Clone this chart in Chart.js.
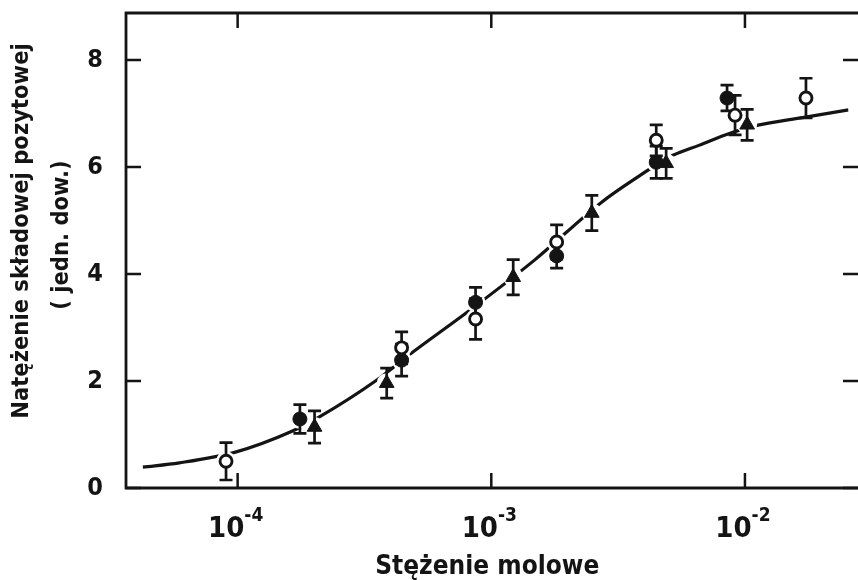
<!DOCTYPE html>
<html>
<head>
<meta charset="utf-8">
<script src="https://cdn.jsdelivr.net/npm/chart.js@4.4.1/dist/chart.umd.min.js"></script>
<style>
  html, body { margin: 0; padding: 0; background: #fff; }
  #chart { display: block; }
</style>
</head>
<body>
<canvas id="chart" width="858" height="580"></canvas>
<script>
// values
const openX = [9.0e-5, 4.43e-4, 8.67e-4, 1.81e-3, 4.47e-3, 9.14e-3, 1.74e-2];
const openY = [0.50, 2.62, 3.16, 4.60, 6.50, 6.97, 7.29];
const openErr = [0.35, 0.30, 0.38, 0.32, 0.29, 0.37, 0.37];

const filledX = [1.76e-4, 4.43e-4, 8.67e-4, 1.81e-3, 4.47e-3, 8.5e-3];
const filledY = [1.29, 2.39, 3.47, 4.34, 6.09, 7.29];
const filledErr = [0.27, 0.30, 0.28, 0.23, 0.30, 0.24];

const triX = [2.01e-4, 3.87e-4, 1.22e-3, 2.49e-3, 4.89e-3, 1.02e-2];
const triY = [1.14, 1.96, 3.94, 5.14, 6.07, 6.79];
const triErr = [0.30, 0.28, 0.33, 0.33, 0.28, 0.29];

const curveX = [4.23e-5, 5.89e-5, 9.8e-5, 1.62e-4, 2.1e-4, 3.54e-4, 4.75e-4, 8.43e-4,
  1.48e-3, 2.7e-3, 3.63e-3, 5.2e-3, 6.62e-3, 8.36e-3, 1.09e-2, 1.71e-2, 2.56e-2];
const curveY = [0.39, 0.47, 0.67, 1.05, 1.33, 2.02, 2.49, 3.36,
  4.26, 5.33, 5.76, 6.22, 6.41, 6.60, 6.77, 6.93, 7.07];

const xTicks = [1e-4, 1e-3, 1e-2];
const xTickBase = "10";
const xTickExp = ["-4", "-3", "-2"];
const yTicks = [0, 2, 4, 6, 8];
const yTitle = ["Natężenie składowej pozytowej", "( jedn. dow.)"];

const INK = "#141414";
const FONT = "'DejaVu Sans Condensed', 'DejaVu Sans', sans-serif";

const pts = (xs, ys) => xs.map((x, i) => ({ x: x, y: ys[i] }));

// after the curve is drawn: white gaps round the symbols, then the error bars,
// so the symbols themselves land on top
const errorBars = {
  id: "errorBars",
  afterDatasetDraw(chart, args) {
    if (args.index !== 0) return;
    const { ctx, scales } = chart;
    const sets = [[openX, openY, openErr], [filledX, filledY, filledErr], [triX, triY, triErr]];
    ctx.save();
    ctx.fillStyle = "#fff";
    sets.forEach(([xs, ys]) => {
      xs.forEach((x, i) => {
        ctx.beginPath();
        ctx.arc(scales.x.getPixelForValue(x), scales.y.getPixelForValue(ys[i]), 10, 0, Math.PI * 2);
        ctx.fill();
      });
    });
    ctx.strokeStyle = INK;
    ctx.lineWidth = 2.7;
    sets.forEach(([xs, ys, es]) => {
      xs.forEach((x, i) => {
        const px = scales.x.getPixelForValue(x);
        const top = scales.y.getPixelForValue(ys[i] + es[i]);
        const bot = scales.y.getPixelForValue(ys[i] - es[i]);
        ctx.beginPath();
        ctx.moveTo(px, top); ctx.lineTo(px, bot);
        ctx.moveTo(px - 6.5, top); ctx.lineTo(px + 6.5, top);
        ctx.moveTo(px - 6.5, bot); ctx.lineTo(px + 6.5, bot);
        ctx.stroke();
      });
    });
    ctx.restore();
  },
};

// box with inward ticks on all sides (right border falls off the page),
// plus the power-of-ten labels and the two-line y title
const frame = {
  id: "frame",
  beforeDraw(chart) {
    const ctx = chart.ctx;
    ctx.save();
    ctx.fillStyle = "#fff";
    ctx.fillRect(0, 0, chart.width, chart.height);
    ctx.restore();
  },
  afterDraw(chart) {
    const { ctx, chartArea: a, scales } = chart;
    const len = 15;
    ctx.save();
    ctx.strokeStyle = INK;
    ctx.lineWidth = 2.8;
    ctx.beginPath();
    ctx.moveTo(chart.width, a.top); ctx.lineTo(a.left, a.top);
    ctx.lineTo(a.left, a.bottom); ctx.lineTo(chart.width, a.bottom);
    ctx.stroke();
    ctx.lineWidth = 2.5;
    ctx.beginPath();
    xTicks.forEach((v) => {
      const px = scales.x.getPixelForValue(v);
      ctx.moveTo(px, a.top); ctx.lineTo(px, a.top + len);
      ctx.moveTo(px, a.bottom); ctx.lineTo(px, a.bottom - len);
    });
    yTicks.forEach((v) => {
      const py = scales.y.getPixelForValue(v);
      ctx.moveTo(a.left, py); ctx.lineTo(a.left + len, py);
      ctx.moveTo(chart.width, py); ctx.lineTo(chart.width - len, py);
    });
    ctx.stroke();

    ctx.fillStyle = INK;
    ctx.textBaseline = "alphabetic";
    ctx.textAlign = "left";
    const baseFont = "bold 29px " + FONT;
    const expFont = "bold 19px " + FONT;
    xTicks.forEach((v, i) => {
      const px = scales.x.getPixelForValue(v);
      ctx.font = baseFont;
      const wb = ctx.measureText(xTickBase).width;
      ctx.font = expFont;
      const we = ctx.measureText(xTickExp[i]).width;
      const x0 = px - (wb + we) / 2 - 2;
      ctx.font = baseFont;
      ctx.fillText(xTickBase, x0, a.bottom + 49);
      ctx.font = expFont;
      ctx.fillText(xTickExp[i], x0 + wb, a.bottom + 33);
    });

    ctx.font = "bold 23.5px " + FONT;
    ctx.textAlign = "center";
    ctx.textBaseline = "middle";
    [[22, 231], [62, 235]].forEach(([cx, cy], i) => {
      ctx.save();
      ctx.translate(cx, cy);
      ctx.rotate(-Math.PI / 2);
      ctx.fillText(yTitle[i], 0, 0);
      ctx.restore();
    });
    ctx.restore();
  },
};

new Chart(document.getElementById("chart"), {
  type: "scatter",
  data: {
    datasets: [
      {
        type: "line",
        order: 10,
        data: pts(curveX, curveY),
        borderColor: INK,
        borderWidth: 3.2,
        pointRadius: 0,
        cubicInterpolationMode: "monotone",
        fill: false,
      },
      {
        order: 2,
        data: pts(filledX, filledY),
        pointStyle: "circle",
        pointRadius: 7,
        backgroundColor: INK,
        borderColor: INK,
        borderWidth: 1,
      },
      {
        order: 2,
        data: pts(triX, triY),
        pointStyle: "triangle",
        pointRadius: 8.5,
        backgroundColor: INK,
        borderColor: INK,
        borderWidth: 1,
      },
      {
        order: 0,
        data: pts(openX, openY),
        pointStyle: "circle",
        pointRadius: 6,
        backgroundColor: "#fff",
        borderColor: INK,
        borderWidth: 2.9,
      },
    ],
  },
  options: {
    responsive: false,
    animation: false,
    events: [],
    layout: { padding: { top: 13, right: 0, left: 0, bottom: 0 } },
    plugins: { legend: { display: false }, tooltip: { enabled: false } },
    scales: {
      x: {
        type: "logarithmic",
        min: 3.63e-5,
        max: 2.56e-2,
        grid: { display: false },
        border: { display: false },
        afterBuildTicks: (s) => { s.ticks = xTicks.map((v) => ({ value: v })); },
        afterFit: (s) => { s.height = 92; s.paddingLeft = 0; s.paddingRight = 0; },
        ticks: { display: false },
        title: {
          display: true,
          text: "Stężenie molowe",
          color: INK,
          padding: 0,
          font: { family: FONT, size: 26, weight: "bold", lineHeight: 1.0 },
        },
      },
      y: {
        min: 0,
        max: 8.88,
        grid: { display: false },
        border: { display: false },
        afterBuildTicks: (s) => { s.ticks = yTicks.map((v) => ({ value: v })); },
        afterFit: (s) => { s.width = 126; s.paddingTop = 0; s.paddingBottom = 0; },
        ticks: {
          color: INK,
          padding: 15,
          font: { family: FONT, size: 25, weight: "bold" },
        },
        title: { display: false },
      },
    },
  },
  plugins: [frame, errorBars],
});
</script>
</body>
</html>
